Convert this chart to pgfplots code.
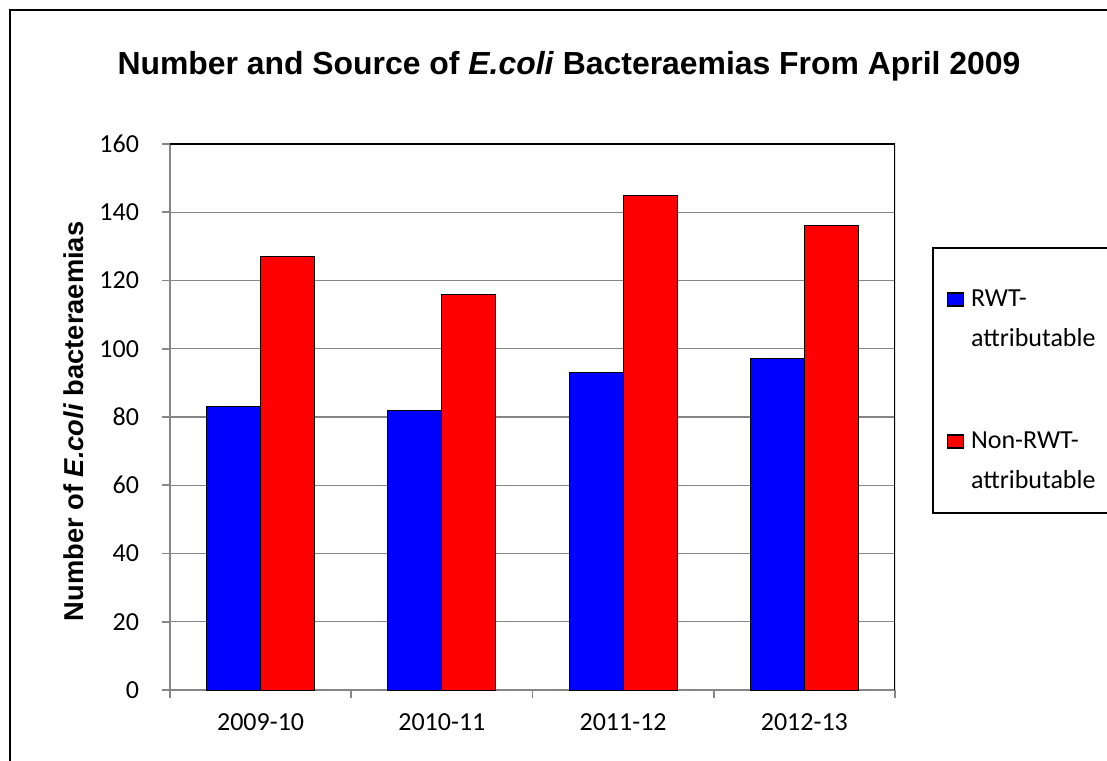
\documentclass[border=0pt]{standalone}
\usepackage{fontspec}
\setmainfont{Carlito}
\newfontfamily\arialfont{Liberation Sans}
\usepackage{pgfplots}
\usepackage{pgfplotstable}
\pgfplotsset{compat=1.18}
\definecolor{gridgray}{RGB}{134,134,134}
\definecolor{barblue}{RGB}{0,0,255}
\definecolor{barred}{RGB}{255,0,0}
\pgfplotsset{sqlegend/.style={legend image code/.code={\draw[##1, draw=black, line width=0.6pt] (0pt,0pt) rectangle (8pt,6.5pt);}}}
\pgfplotstableread{
x rwt non
0 83 127
1 82 116
2 93 145
3 97 136
}\datatable
\begin{document}
\begin{tikzpicture}
\useasboundingbox (0,0) rectangle (553.5pt,380pt);
\draw[line width=1pt] (5pt,-20pt) -- (5pt,375pt) -- (580pt,375pt);
\begin{axis}[
  at={(85pt,35pt)}, anchor=south west,
  scale only axis, width=362.5pt, height=273pt,
  ybar=0pt, bar width=27pt,
  xmin=-0.5, xmax=3.5, ymin=0, ymax=160,
  xtick={0,1,2,3}, xticklabels={2009-10,2010-11,2011-12,2012-13},
  major x tick style={draw=none},
  minor xtick={-0.5,0.5,1.5,2.5,3.5},
  ytick={0,20,...,160},
  axis x line*=bottom, axis y line*=left,
  axis line style={gridgray, line width=0.9pt, -},
  tick style={gridgray, line width=0.9pt},
  tick align=outside, major tick length=4pt, minor tick length=4pt,
  ymajorgrids, grid style={gridgray, line width=0.6pt},
  ticklabel style={font=\fontsize{13}{15}\selectfont},
  yticklabel style={xshift=-8pt},
  xticklabel style={yshift=-4.5pt},
  /pgf/number format/assume math mode=true,
  every axis title shift=0pt,
  title={\arialfont\bfseries Number and Source of \textit{E.coli} Bacteraemias From April 2009},
  title style={at={(axis description cs:0.5503,1.1264)}, anchor=base, font=\fontsize{15.95}{19}\selectfont},
  ylabel={\arialfont\bfseries Number of \textit{E.coli} bacteraemias},
  ylabel style={at={(axis description cs:-0.1324,0.4918)}, anchor=center, font=\fontsize{13.65}{16}\selectfont},
  legend style={at={(rel axis cs:1.051,0.811)}, anchor=north west, draw=black, line width=0.9pt,
    inner xsep=7pt, inner ysep=17pt, row sep=43.5pt, column sep=3.5pt,
    nodes={inner sep=0pt, text width=80pt, align=left, text height=12pt, text depth=15.5pt,
      font=\fontsize{13}{20}\selectfont},
    cells={anchor=base west}},
]
\addplot[fill=barblue, draw=black, line width=0.5pt, sqlegend]
  table[x=x, y=rwt]{\datatable};
\addlegendentry{RWT-\\attributable}
\addplot[fill=barred, draw=black, line width=0.5pt, sqlegend]
  table[x=x, y=non]{\datatable};
\addlegendentry{Non-RWT-\\attributable}
\draw[black, line width=0.9pt] (rel axis cs:0,1) -- (rel axis cs:1,1) -- (rel axis cs:1,0);
\end{axis}
\end{tikzpicture}
\end{document}
